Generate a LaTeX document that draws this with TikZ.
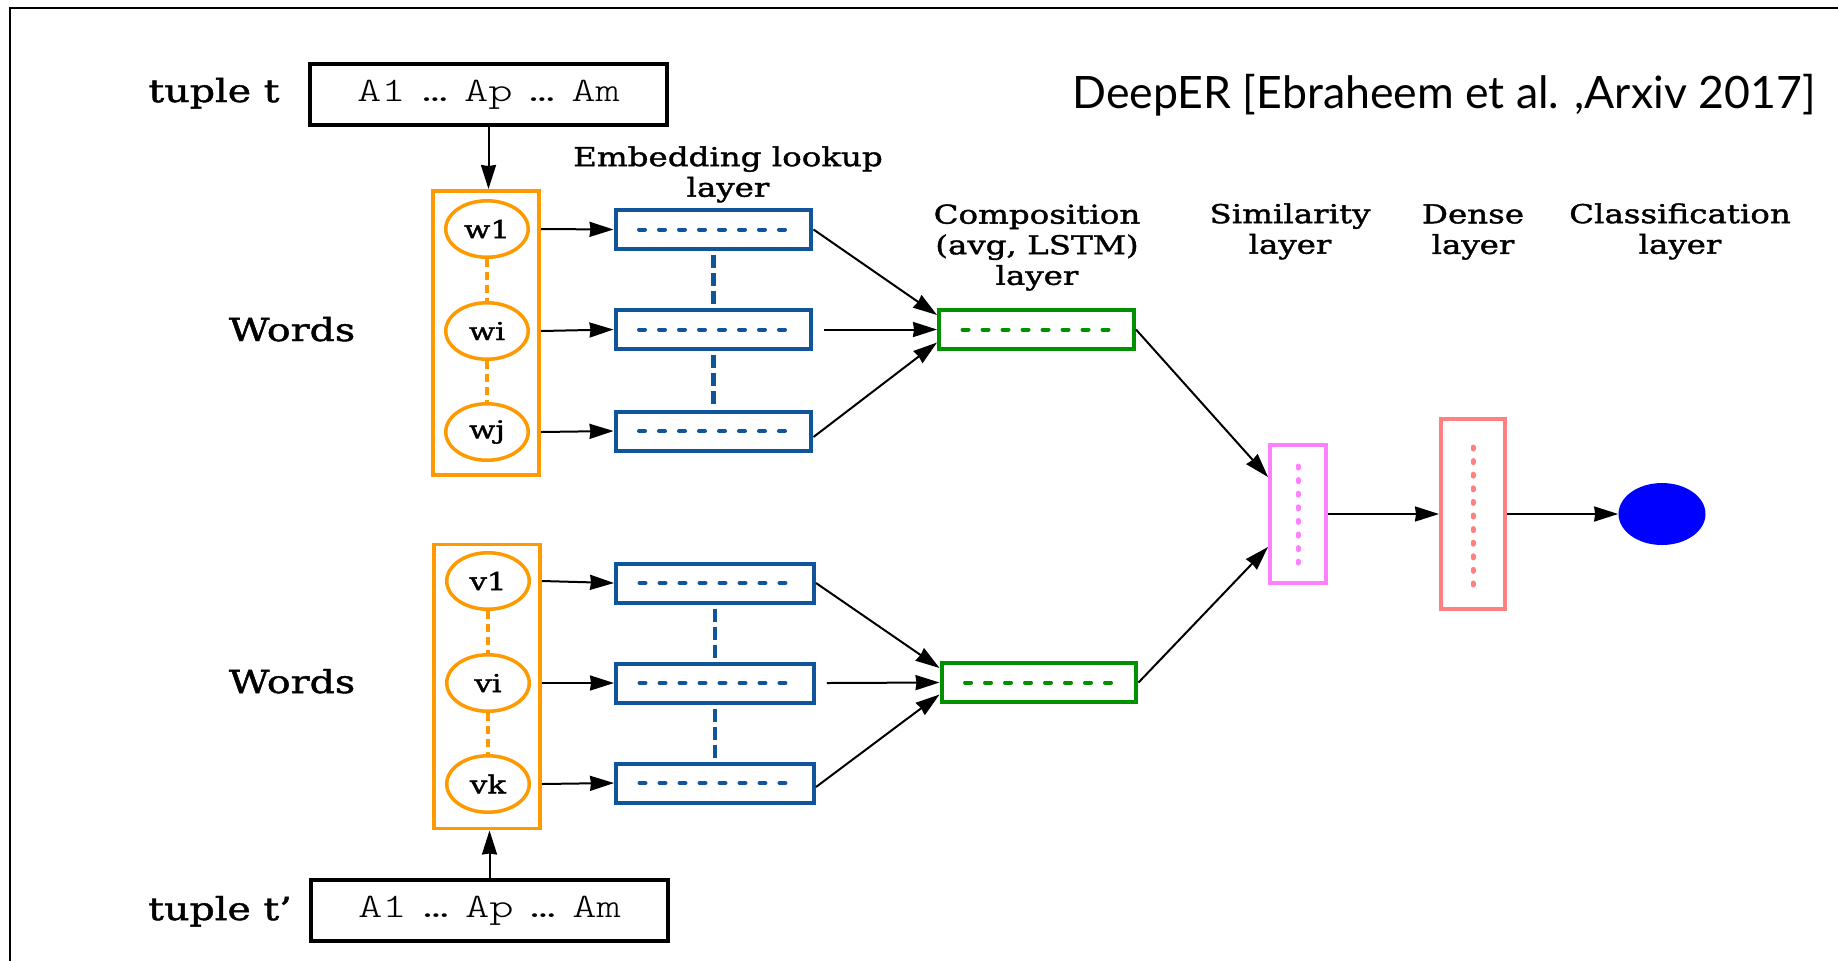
\documentclass[tikz,border=0pt]{standalone}
\usepackage{fontspec}
\usepackage{xcolor}
\usetikzlibrary{arrows.meta, positioning, shapes.geometric, calc}

\newfontfamily\labelfont[FakeStretch=1.25, FakeBold=1.5]{DejaVu Serif}
\newfontfamily\titlefont{Lato}
\newfontfamily\attrfont[FakeStretch=1.35]{lmmonolt10-regular.otf}

\definecolor{wordorange}{RGB}{255,153,0}
\definecolor{embblue}{RGB}{16,84,155}
\definecolor{compgreen}{RGB}{0,145,0}
\definecolor{simpink}{RGB}{255,128,255}
\definecolor{densered}{RGB}{255,128,128}

\newcommand{\attrs}{A1\hspace{0.5em}…\hspace{0.5em}Ap\hspace{0.5em}…\hspace{0.5em}Am}

\tikzset{
  tuplebox/.style={draw=black, line width=0.08cm, minimum width=7.14cm, minimum height=1.22cm,
    inner sep=0, font=\attrfont\fontsize{19.5}{21}\selectfont},
  wordbox/.style={draw=wordorange, line width=0.07cm, minimum width=2.13cm, minimum height=5.69cm},
  word/.style={ellipse, draw=wordorange, line width=0.07cm, minimum width=1.65cm, minimum height=1.13cm,
    inner sep=0, font=\labelfont\fontsize{14}{15}\selectfont},
  emb/.style={draw=embblue, line width=0.08cm, minimum width=3.92cm, minimum height=0.78cm},
  comp/.style={draw=compgreen, line width=0.08cm, minimum width=3.9cm, minimum height=0.78cm},
  innerdash/.style={line width=0.08cm, line cap=round, dash pattern=on 0.12cm off 0.28cm},
  vdash/.style={line width=0.09cm, dash pattern=on 0.26cm off 0.1cm},
  dots/.style={line width=0.1cm, line cap=round, dash pattern=on 0.04cm off 0.232cm},
  arr/.style={-{Stealth[length=0.48cm, width=0.3cm, inset=0.02cm]}, line width=0.04cm},
  head/.style={font=\labelfont\fontsize{14.8}{17.4}\selectfont, align=center, inner sep=0, anchor=north},
  side/.style={font=\labelfont\fontsize{18}{20}\selectfont, inner sep=0, anchor=base},
}

\begin{document}
\begin{tikzpicture}[x=0.02cm, y=-0.02cm]
  \useasboundingbox (0,0) rectangle (1838,961);
  % slide frame (only top and left edges show)
  \draw[line width=0.04cm] (10,961) -- (10,8) -- (1838,8);

  % title
  \node[font=\titlefont\fontsize{25.4}{30}\selectfont, inner sep=0, anchor=base] (title) at (1444,108)
    {DeepER [Ebraheem et al. ,Arxiv 2017]};

  % tuples
  \node[tuplebox] (tup1) at (488.5,94.5) {\attrs};
  \node[tuplebox] (tup2) at (489.5,910.5) {\attrs};
  \node[side] (tlab1) at (214,102) {tuple t};
  \node[side] (tlab2) at (220,920) {tuple t’};

  % word columns
  \node[wordbox] (wbox1) at (486,333) {};
  \node[wordbox] (wbox2) at (487,686.5) {};
  \node[word] (w1) at (487,229) {w1};
  \node[word] (wi) at (487,331) {wi};
  \node[word] (wj) at (487,432) {wj};
  \node[word] (v1) at (488,581) {v1};
  \node[word] (vi) at (488,683) {vi};
  \node[word] (vk) at (488,784) {vk};
  \node[side] (words1) at (292,341) {Words};
  \node[side] (words2) at (292,693) {Words};

  % embedding lookup layer
  \node[emb] (e1) at (713.5,229.5) {};
  \node[emb] (e2) at (713.5,329.5) {};
  \node[emb] (e3) at (713.5,431) {};
  \node[emb, minimum width=3.96cm] (f1) at (715,583) {};
  \node[emb, minimum width=3.96cm] (f2) at (715,683) {};
  \node[emb, minimum width=3.96cm] (f3) at (715,783) {};

  % composition layer
  \node[comp] (c1) at (1036.5,329.5) {};
  \node[comp] (c2) at (1039,682.5) {};

  % similarity, dense, classification
  \node[draw=simpink, line width=0.08cm, minimum width=1.12cm, minimum height=2.76cm] (sim) at (1298,514) {};
  \node[draw=densered, line width=0.08cm, minimum width=1.28cm, minimum height=3.8cm] (dense) at (1473,514) {};
  \node[ellipse, fill=blue, minimum width=1.74cm, minimum height=1.24cm, inner sep=0] (cls) at (1662,514) {};

  % layer headings
  \node[head] (hemb) at (728,146) {Embedding lookup\\layer};
  \node[head] (hcomp) at (1037,204) {Composition\\(avg, LSTM)\\layer};
  \node[head] (hsim) at (1290,203) {Similarity\\layer};
  \node[head] (hdense) at (1473,204) {Dense\\layer};
  \node[head] (hcls) at (1680,203) {Classification\\layer};

  % dashes inside the boxes
  \foreach \n in {e1,e2,e3,f1,f2,f3}
    \draw[innerdash, embblue] ([xshift=0.51cm]\n.west) -- ([xshift=-0.57cm]\n.east);
  \foreach \n in {c1,c2}
    \draw[innerdash, compgreen] ([xshift=0.51cm]\n.west) -- ([xshift=-0.55cm]\n.east);
  \draw[dots, simpink] ([yshift=-0.46cm]sim.north) -- ([yshift=0.44cm]sim.south);
  \draw[dots, densered] ([yshift=-0.6cm]dense.north) -- ([yshift=0.52cm]dense.south);

  % dashed links inside columns
  \foreach \a/\b in {w1/wi, wi/wj, v1/vi, vi/vk}
    \draw[vdash, wordorange, dash pattern=on 0.16cm off 0.1cm] (\a.south) -- (\b.north);
  \foreach \a/\b in {e1/e2, e2/e3, f1/f2, f2/f3}
    \draw[vdash, embblue] ([yshift=-0.08cm]\a.south) -- ([yshift=0.06cm]\b.north);

  % connectors
  \draw[arr] (tup1.south) -- (tup1.south |- wbox1.north);
  \draw[arr] (tup2.north) -- (tup2.north |- wbox2.south);
  \foreach \a/\b in {w1/e1, wi/e2, wj/e3}
    \draw[arr] (wbox1.east |- \a) -- (\b.west);
  \foreach \a/\b in {v1/f1, vi/f2, vk/f3}
    \draw[arr] (wbox2.east |- \a) -- (\b.west);
  \draw[arr] (e1.east) -- ([yshift=0.29cm]c1.west);
  \draw[arr] ([xshift=0.22cm]e2.east) -- (c1.west);
  \draw[arr] ([yshift=-0.12cm]e3.east) -- ([yshift=-0.26cm]c1.west);
  \draw[arr] (f1.east) -- ([yshift=0.29cm]c2.west);
  \draw[arr] ([xshift=0.22cm]f2.east) -- (c2.west);
  \draw[arr] ([yshift=-0.08cm]f3.east) -- ([yshift=-0.24cm]c2.west);
  \draw[arr] (c1.east) -- ([yshift=0.74cm]sim.west);
  \draw[arr] (c2.east) -- ([yshift=-0.66cm]sim.west);
  \draw[arr] (sim.east) -- (dense.west);
  \draw[arr] (dense.east) -- (cls.west);
\end{tikzpicture}
\end{document}
